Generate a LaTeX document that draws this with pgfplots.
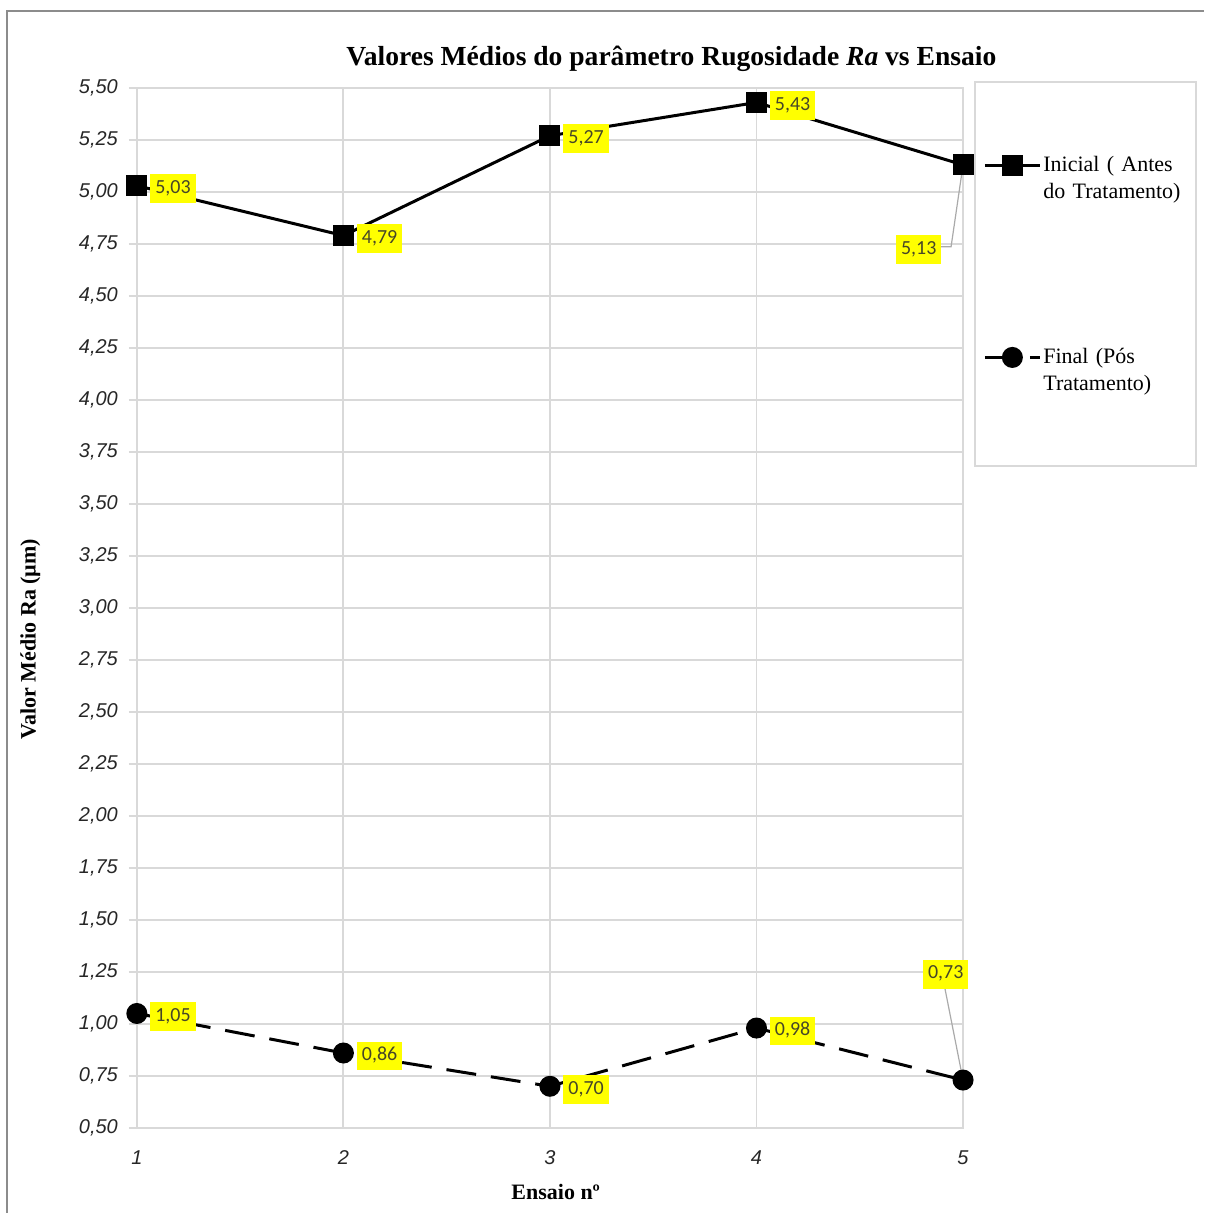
\documentclass[border=0pt]{standalone}
\usepackage{pgfplots}
\pgfplotsset{compat=1.18}
\usepackage{fontspec}
\setmainfont{Liberation Serif}
\newfontfamily\labelfont{Carlito}
\newfontfamily\tickfont{Liberation Sans}

\definecolor{gridgray}{RGB}{217,217,217}
\definecolor{framegray}{RGB}{140,140,140}
\definecolor{leadergray}{RGB}{170,170,170}
\definecolor{labelbg}{RGB}{255,255,0}
\definecolor{labeltext}{RGB}{70,70,40}

\begin{document}
\begin{tikzpicture}
% page extent and outer chart frame
\path (-68.5pt,-42.5pt) rectangle (534pt,564.5pt);
\draw[framegray, line width=1.2pt] (-65pt,-42.5pt) -- (-65pt,559pt) -- (534pt,559pt);
\begin{axis}[
  scale only axis,
  width=413.5pt, height=520.5pt,
  xmin=1, xmax=5, ymin=0.5, ymax=5.5,
  clip=false,
  xtick={1,2,3,4,5},
  ytick={0.5,0.75,...,5.5},
  grid=major,
  major grid style={gridgray, line width=1pt},
  axis line style={gridgray, line width=1pt},
  tick align=outside,
  tick pos=left,
  xtick style={draw=none},
  ytick style={gridgray, line width=1pt},
  major tick length=4pt,
  /pgf/number format/assume math mode=true,
  yticklabel={\pgfmathprintnumber[fixed, fixed zerofill, precision=2, use comma]{\tick}},
  xticklabel={\pgfmathprintnumber[int detect]{\tick}},
  tick label style={font=\tickfont\fontsize{10}{12}\selectfont\itshape, text=black!85},
  yticklabel style={xshift=-2pt},
  xticklabel style={yshift=-4pt},
  title={Valores Médios do parâmetro Rugosidade \textit{Ra} vs Ensaio},
  title style={at={(axis description cs:0.647,1.031)}, anchor=center, yshift=-7.5pt,
    font=\fontsize{13.8}{16}\selectfont\bfseries},
  xlabel={Ensaio nº},
  xlabel style={at={(axis description cs:0.507,-0.0615)}, anchor=center, font=\fontsize{11}{13}\selectfont\bfseries},
  ylabel={Valor Médio Ra (µm)},
  ylabel style={at={(axis description cs:-0.129,0.47)}, anchor=center, font=\fontsize{11}{13}\selectfont\bfseries},
  legend style={at={(axis description cs:1.0145,1.0058)}, anchor=north west,
    draw=none, fill=none, inner xsep=4pt, inner ysep=36pt, row sep=85pt,
    nodes={text width=73pt, align=left, inner sep=1pt, font=\fontsize{11}{13.5}\selectfont}},
  legend cell align=left,
  legend image code/.code={\draw[mark repeat=2, mark phase=2] plot coordinates {(0pt,0pt) (13.75pt,0pt) (27.5pt,0pt)};},
  nodes near coords,
  nodes near coords style={font=\labelfont\fontsize{10}{12}\selectfont, text=labeltext,
    fill=labelbg, inner xsep=2.5pt, inner ysep=3pt, text height=6.6pt, text depth=1.8pt,
    anchor=west, xshift=6pt, yshift=-1.5pt},
  /pgf/number format/.cd, fixed, fixed zerofill, precision=2, use comma,
]
% legend frame
\draw[gridgray, line width=1pt] (axis description cs:1.0145,1.0058) rectangle (axis description cs:1.2817,0.6369);
% leader lines of the two displaced labels
\draw[leadergray, line width=0.6pt] (axis cs:4.889,4.736) -- (axis cs:4.942,4.736) -- (axis cs:5,5.13);
\draw[leadergray, line width=0.6pt] (axis cs:4.911,1.177) -- (axis cs:5,0.73);

\addplot[black, line width=1.5pt, mark=square*, mark size=4.5pt,
  coordinate style/.condition={\coordindex==4}{xshift=-40.25pt, yshift=-41pt}]
  coordinates {(1,5.03) (2,4.79) (3,5.27) (4,5.43) (5,5.13)};
\addlegendentry{Inicial ( Antes\\do Tratamento)}

\addplot[black, line width=1.5pt, dash pattern=on 15pt off 7.5pt, mark=*, mark size=4.5pt,
  mark options={solid},
  coordinate style/.condition={\coordindex==4}{xshift=-26.75pt, yshift=54.5pt}]
  coordinates {(1,1.05) (2,0.86) (3,0.70) (4,0.98) (5,0.73)};
\addlegendentry{Final (Pós\\Tratamento)}
\end{axis}
\end{tikzpicture}
\end{document}
